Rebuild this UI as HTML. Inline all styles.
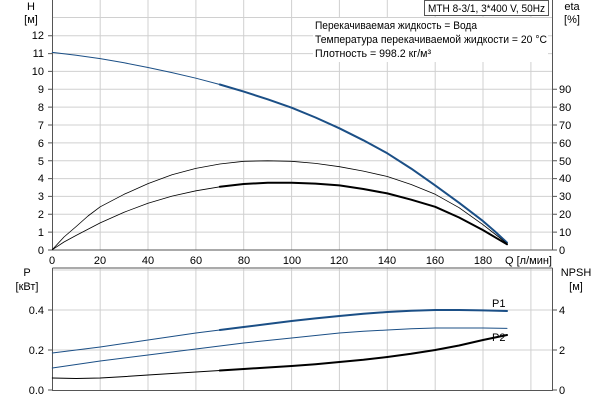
<!DOCTYPE html>
<html><head><meta charset="utf-8"><style>
body{margin:0;background:#fff}
svg{display:block;font-family:"Liberation Sans",sans-serif;font-size:11px}
</style></head><body>
<svg width="600" height="400" viewBox="0 0 600 400">
<g stroke="#d0d0d0" stroke-width="1">
<path d="M100.2 0V250M148 0V250M195.9 0V250M243.7 0V250M291.6 0V250M339.4 0V250M387.3 0V250M435.2 0V250M483 0V250M530.9 0V250"/>
<path d="M52 232.1H552M52 214.3H552M52 196.4H552M52 178.6H552M52 160.7H552M52 142.9H552M52 125H552M52 107.1H552M52 89.3H552M52 71.4H552M52 53.6H552M52 35.7H552M52 17.5H552"/>
<path d="M100.2 268V390M148 268V390M195.9 268V390M243.7 268V390M291.6 268V390M339.4 268V390M387.3 268V390M435.2 268V390M483 268V390M530.9 268V390"/>
<path d="M52 350H552M52 310H552M52 270H552"/>
</g>
<rect x="313" y="18" width="235" height="44" fill="#fff"/>
<g stroke="#555" fill="none" stroke-width="1">
<path d="M52.5 0V250H552.5V0"/>
<path d="M52.5 268V390.5H552.5V268"/>
<path d="M52.5 268H552.5"/>
<path d="M48 250H52M48 232.1H52M48 214.3H52M48 196.4H52M48 178.6H52M48 160.7H52M48 142.9H52M48 125H52M48 107.1H52M48 89.3H52M48 71.4H52M48 53.6H52M48 35.7H52"/>
<path d="M552 250H557M552 232.1H557M552 214.3H557M552 196.4H557M552 178.6H557M552 160.7H557M552 142.9H557M552 125H557M552 107.1H557M552 89.3H557"/>
<path d="M48 390H52M48 350H52M48 310H52M552 390H557M552 350H557M552 310H557"/>
</g>
<rect x="424.5" y="0.5" width="124" height="15" fill="#fff" stroke="#555"/>
<text x="428" y="12" textLength="117" lengthAdjust="spacingAndGlyphs">MTH 8-3/1, 3*400 V, 50Hz</text>
<text x="315" y="29" textLength="162" lengthAdjust="spacingAndGlyphs">Перекачиваемая жидкость = Вода</text>
<text x="315" y="43" textLength="232" lengthAdjust="spacingAndGlyphs">Температура перекачиваемой жидкости = 20 °C</text>
<text x="315" y="57" textLength="116" lengthAdjust="spacingAndGlyphs">Плотность = 998.2 кг/м³</text>
<g text-anchor="end">
<text x="44" y="254">0</text><text x="44" y="236">1</text><text x="44" y="218">2</text><text x="44" y="200">3</text><text x="44" y="182">4</text><text x="44" y="165">5</text><text x="44" y="147">6</text><text x="44" y="129">7</text><text x="44" y="111">8</text><text x="44" y="93">9</text><text x="44" y="75">10</text><text x="44" y="57">11</text><text x="44" y="39">12</text>
<text x="44" y="394">0.0</text><text x="44" y="354">0.2</text><text x="44" y="314">0.4</text>
</g>
<g>
<text x="559" y="254">0</text><text x="559" y="236">10</text><text x="559" y="218">20</text><text x="559" y="200">30</text><text x="559" y="182">40</text><text x="559" y="165">50</text><text x="559" y="147">60</text><text x="559" y="129">70</text><text x="559" y="111">80</text><text x="559" y="93">90</text>
<text x="559" y="394">0</text><text x="559" y="354">2</text><text x="559" y="314">4</text>
</g>
<g text-anchor="middle">
<text x="52" y="264">0</text><text x="100" y="264">20</text><text x="148" y="264">40</text><text x="196" y="264">60</text><text x="244" y="264">80</text><text x="292" y="264">100</text><text x="339" y="264">120</text><text x="387" y="264">140</text><text x="435" y="264">160</text><text x="483" y="264">180</text>
<text x="31" y="10">H</text><text x="31" y="23">[м]</text>
<text x="572" y="10">eta</text><text x="572" y="23">[%]</text>
<text x="27" y="276">P</text><text x="27" y="290">[кВт]</text>
<text x="576" y="276">NPSH</text><text x="576" y="290">[м]</text>
</g>
<text x="505" y="264">Q [л/мин]</text>
<text x="492" y="307">P1</text><text x="492" y="341">P2</text>
<g fill="none" stroke-linejoin="round" stroke-linecap="round">
<polyline stroke="#1b4f86" stroke-width="1" points="52.3,52.4 76.2,55.3 100.2,58.6 124.1,62.8 148,67.5 172,72.6 195.9,78.2 219.8,84.5"/>
<polyline stroke="#1b4f86" stroke-width="2" points="219.8,84.5 243.7,91.6 267.7,99.3 291.6,107.7 315.5,117.5 339.4,128.3 363.4,140.3 387.3,153.3 411.2,168.6 435.2,185.4 459.1,202.8 483,221.1 495,231.5 507,242.6"/>
<polyline stroke="#000" stroke-width="0.8" points="52.3,249.7 64,237 76.2,226.5 88,216 100.2,206.8 124.1,194.3 148,183.6 172,174.7 195.9,168.4 219.8,164 243.7,161.3 267.7,160.8 291.6,161.3 315.5,163.4 339.4,166.7 363.4,171.1 387.3,176.5 411.2,184.5 435.2,194.3 459.1,207.7 483,224.7 507,243.5"/>
<polyline stroke="#000" stroke-width="0.8" points="52.3,249.7 64,242 76.2,235.4 100.2,222.9 124.1,212.2 148,203.3 172,196.1 195.9,190.8 219.8,186.8"/>
<polyline stroke="#000" stroke-width="2" points="219.8,186.8 243.7,184 267.7,182.7 291.6,182.7 315.5,183.6 339.4,185.4 363.4,189 387.3,193.4 411.2,199.7 435.2,206.8 459.1,217.5 483,230.1 507,244.3"/>
<polyline stroke="#1b4f86" stroke-width="1" points="52.3,353 100.2,347 148,340 195.9,333 219.8,330"/>
<polyline stroke="#1b4f86" stroke-width="2" points="219.8,330 243.7,327 267.7,324 291.6,321 315.5,318.4 339.4,316 363.4,313.8 387.3,312 411.2,310.8 435.2,310 459.1,310 483,310.4 507,311"/>
<polyline stroke="#1b4f86" stroke-width="1" points="52.3,368 100.2,361 148,355 195.9,349 243.7,343 291.6,338 339.4,333 363.4,331.3 387.3,330 411.2,328.8 435.2,328 483,328 507,328.4"/>
<polyline stroke="#000" stroke-width="1" points="52.3,378 76.2,378.5 100.2,378 124.1,376.6 148,375 195.9,372 219.8,370.5"/>
<polyline stroke="#000" stroke-width="2" points="219.8,370.5 243.7,369 267.7,367.5 291.6,366 315.5,364.2 339.4,362 363.4,359.8 387.3,357 411.2,353.8 435.2,350 459.1,345.5 483,340 507,335"/>
</g>
</svg>
</body></html>
